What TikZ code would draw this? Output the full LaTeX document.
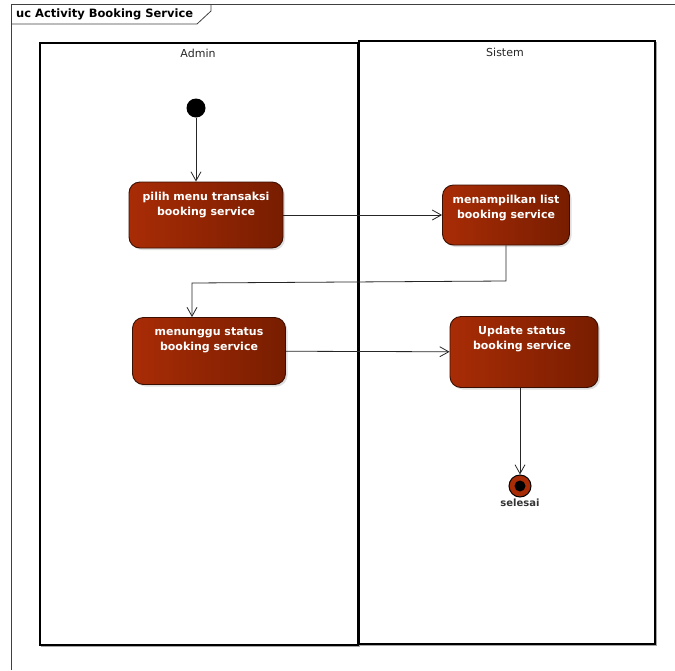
\documentclass[tikz,border=0pt]{standalone}
\usepackage{fontspec}
\setmainfont{DejaVu Sans}
\usetikzlibrary{arrows.meta,shadows}
\definecolor{actL}{HTML}{A82C06}
\definecolor{actR}{HTML}{781D00}
\definecolor{actB}{HTML}{3A0F02}
\tikzset{
  act/.style={rounded corners=11pt, left color=actL, right color=actR, draw=actB, line width=0.9pt,
    drop shadow={opacity=0.25, shadow xshift=2pt, shadow yshift=-2pt}, inner sep=0pt},
  acttext/.style={text=white, font=\bfseries\fontsize{11}{15}\selectfont, align=center, inner sep=0pt},
  lane/.style={draw=black, line width=1.2pt},
  laneshadow/.style={draw=black!35, line width=1pt},
  flow/.style={draw=black!85, line width=0.8pt, -{Straight Barb[length=9pt,width=10pt,line width=0.8pt]}},
  lanelabel/.style={font=\fontsize{11}{12}\selectfont, text=black!85},
}
\begin{document}
\begin{tikzpicture}[x=1pt,y=-1pt]
\useasboundingbox (0,0) rectangle (675,670);
% outer frame
\draw[black!75, line width=1pt] (11,670) -- (11,4) -- (675,4);
\draw[black!75, line width=0.8pt] (11,24) -- (197,24) -- (211,11) -- (211,4);
\node[anchor=west, font=\bfseries\fontsize{11.5}{12}\selectfont, inner sep=0pt] (title) at (16,14) {uc Activity Booking Service};
% lanes
\draw[laneshadow] (359.5,44) -- (359.5,646.5) -- (41,646.5);
\draw[lane] (40,43) rectangle (358,645);
\draw[laneshadow] (656.5,42) -- (656.5,645.5) -- (360,645.5);
\draw[lane] (359,41) rectangle (655,644);
\node[lanelabel] (ladmin) at (198,53) {Admin};
\node[lanelabel] (lsistem) at (505,52) {Sistem};
% nodes
\node[circle, fill=black, minimum size=19pt, inner sep=0pt] (init) at (196,108) {};
\node[act, minimum width=154pt, minimum height=66pt] (pilih) at (206,215) {};
\node[acttext] (tpilih) at (206,205.5) {pilih menu transaksi\\booking service};
\node[act, minimum width=127pt, minimum height=60pt] (tampil) at (506,215) {};
\node[acttext] (ttampil) at (506,208) {menampilkan list\\booking service};
\node[act, minimum width=153pt, minimum height=67pt] (tunggu) at (209,351) {};
\node[acttext] (ttunggu) at (209,340.5) {menunggu status\\booking service};
\node[act, minimum width=148pt, minimum height=71pt] (update) at (524,352) {};
\node[acttext] (tupdate) at (522,339.5) {Update status\\booking service};
\node[circle, fill=actL, draw=black, line width=1pt, minimum size=22pt, inner sep=0pt] (final) at (520,486) {};
\fill[black] (final.center) circle (5.5pt);
\node[font=\bfseries\fontsize{10}{12}\selectfont, text=black!80] (lselesai) at (520,503) {selesai};
% flows
\draw[flow] (init) -- (init |- pilih.north);
\draw[flow] (pilih) -- (tampil);
\coordinate (b1) at (506,281);
\coordinate (b2) at (192,283);
\draw[flow] (tampil.south) -- (b1) -- (b2) -- (b2 |- tunggu.north);
\draw[flow] (tunggu) -- (update);
\draw[flow] (update.south -| final) -- (final);
\end{tikzpicture}
\end{document}
